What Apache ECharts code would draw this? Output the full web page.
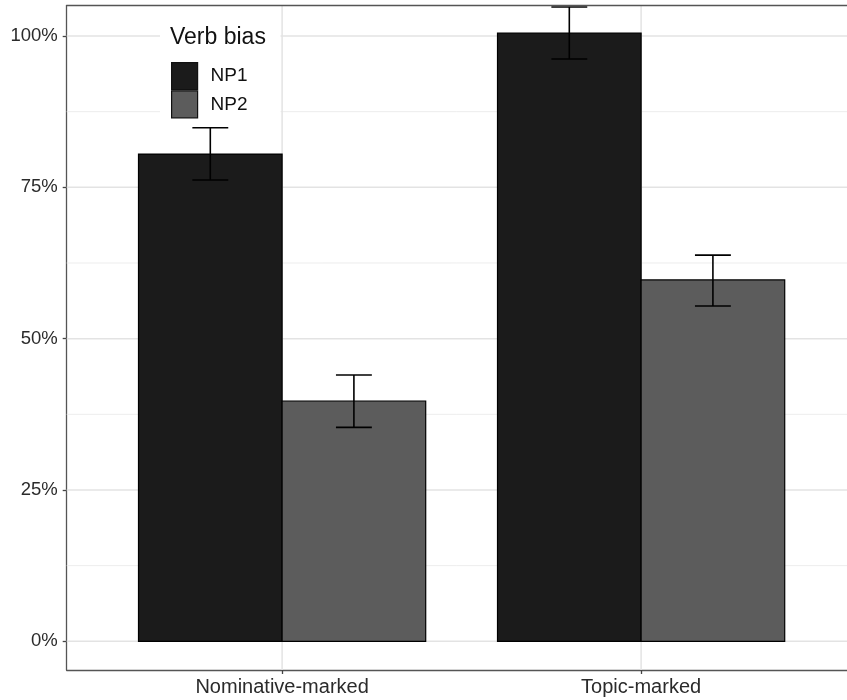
<!DOCTYPE html>
<html>
<head>
<meta charset="utf-8">
<script src="https://cdn.jsdelivr.net/npm/echarts@6/dist/echarts.min.js"></script>
<style>html,body{margin:0;padding:0;background:#fff}#c{width:847px;height:700px}</style>
</head>
<body>
<div id="c"></div>
<script>
var categories = ['Nominative-marked', 'Topic-marked'];
var seriesNames = ['NP1', 'NP2'];
var np1Values = [80.5, 100.5];
var np1Low = [76.2, 96.2];
var np1High = [84.85, 104.8];
var np2Values = [39.7, 59.7];
var np2Low = [35.35, 55.4];
var np2High = [44.0, 63.8];
var yTicks = [0, 25, 50, 75, 100];
var yMinorTicks = [12.5, 37.5, 62.5, 87.5];

var colors = {NP1: '#1b1b1b', NP2: '#5c5c5c'};
var FONT = 'Liberation Sans, Arial, sans-serif';

function barData(vals, lo, hi) {
  return categories.map(function (c, i) { return [i + 1, vals[i], lo[i], hi[i]]; });
}

function makeBarRender(offset, color) {
  return function (params, api) {
    var x = api.value(0) + offset;
    var v = api.value(1);
    var p0 = api.coord([x - 0.2, v]);
    var p1 = api.coord([x + 0.2, 0]);
    var eTop = api.coord([x, api.value(3)]);
    var eBot = api.coord([x, api.value(2)]);
    var capL = api.coord([x - 0.05, 0])[0];
    var capR = api.coord([x + 0.05, 0])[0];
    var es = {stroke: '#000', lineWidth: 1.6};
    return {
      type: 'group',
      children: [
        {type: 'rect', shape: {x: p0[0], y: p0[1], width: p1[0] - p0[0], height: p1[1] - p0[1]},
          style: {fill: color, stroke: '#000', lineWidth: 1.2}},
        {type: 'line', shape: {x1: eTop[0], y1: eTop[1], x2: eBot[0], y2: eBot[1]}, style: es},
        {type: 'line', shape: {x1: capL, y1: eTop[1], x2: capR, y2: eTop[1]}, style: es},
        {type: 'line', shape: {x1: capL, y1: eBot[1], x2: capR, y2: eBot[1]}, style: es}
      ]
    };
  };
}

var gridData = [];
yTicks.forEach(function (t) { gridData.push(['h', t, 1.5, '#e3e3e3']); });
yMinorTicks.forEach(function (t) { gridData.push(['h', t, 1, '#ededed']); });
categories.forEach(function (c, i) { gridData.push(['v', i + 1, 1.5, '#e3e3e3']); });

var chart = echarts.init(document.getElementById('c'));
chart.setOption({
  animation: false,
  backgroundColor: '#fff',
  grid: {left: 66.7, top: 5.5, right: 0, bottom: 30, show: false},
  xAxis: {
    type: 'value', min: 0.4, max: 2.5735,
    axisLine: {show: true, onZero: false, lineStyle: {color: '#555', width: 1.3}},
    splitLine: {show: false},
    axisTick: {show: true, length: 4, customValues: [1, 2], lineStyle: {color: '#444', width: 1.3}},
    axisLabel: {customValues: [1, 2], margin: 7, color: '#2b2b2b', fontFamily: FONT, fontSize: 20,
      formatter: function (v) { return categories[Math.round(v) - 1] || ''; }}
  },
  yAxis: {
    type: 'value', min: -4.74, max: 105.04,
    axisLine: {show: true, onZero: false, lineStyle: {color: '#555', width: 1.3}},
    splitLine: {show: false},
    axisTick: {show: true, length: 4, customValues: yTicks, lineStyle: {color: '#444', width: 1.3}},
    axisLabel: {customValues: yTicks, margin: 9, color: '#2b2b2b', fontFamily: FONT, fontSize: 18.5,
      formatter: function (v) { return v + '%'; }}
  },
  title: {
    text: 'Verb bias', left: 170, top: 26, padding: 0, z: 20,
    textStyle: {fontFamily: FONT, fontSize: 23, fontWeight: 'normal', color: '#111'}
  },
  legend: {
    orient: 'vertical', left: 160, top: 18, padding: [44, 33, 7, 11],
    backgroundColor: '#fff', itemWidth: 26, itemHeight: 27, itemGap: 0,
    selectedMode: false,
    textStyle: {fontFamily: FONT, fontSize: 19, color: '#111', padding: [0, 0, 0, 8]},
    data: seriesNames.map(function (n) {
      return {name: n, icon: 'rect', itemStyle: {color: colors[n], borderColor: '#111', borderWidth: 1.2}};
    })
  },
  series: [
    {
      type: 'custom', name: 'gridlines', z: 1, silent: true,
      data: gridData,
      renderItem: function (params, api) {
        var cs = params.coordSys;
        var d = gridData[params.dataIndex];
        var shape;
        if (d[0] === 'h') {
          var y = api.coord([1, d[1]])[1];
          shape = {x1: cs.x, y1: y, x2: cs.x + cs.width, y2: y};
        } else {
          var x = api.coord([d[1], 0])[0];
          shape = {x1: x, y1: cs.y, x2: x, y2: cs.y + cs.height};
        }
        return {type: 'line', shape: shape, style: {stroke: d[3], lineWidth: d[2]}};
      }
    },
    {
      type: 'custom', name: 'border', z: 5, silent: true,
      data: [[0]],
      renderItem: function (params, api) {
        var cs = params.coordSys;
        return {type: 'line', shape: {x1: cs.x, y1: cs.y, x2: cs.x + cs.width + 10, y2: cs.y},
          style: {stroke: '#555', lineWidth: 1.3}};
      }
    },
    {type: 'custom', name: 'NP1', z: 3, itemStyle: {color: colors.NP1},
      data: barData(np1Values, np1Low, np1High), renderItem: makeBarRender(-0.2, colors.NP1)},
    {type: 'custom', name: 'NP2', z: 3, itemStyle: {color: colors.NP2},
      data: barData(np2Values, np2Low, np2High), renderItem: makeBarRender(0.2, colors.NP2)}
  ]
});
</script>
</body>
</html>
